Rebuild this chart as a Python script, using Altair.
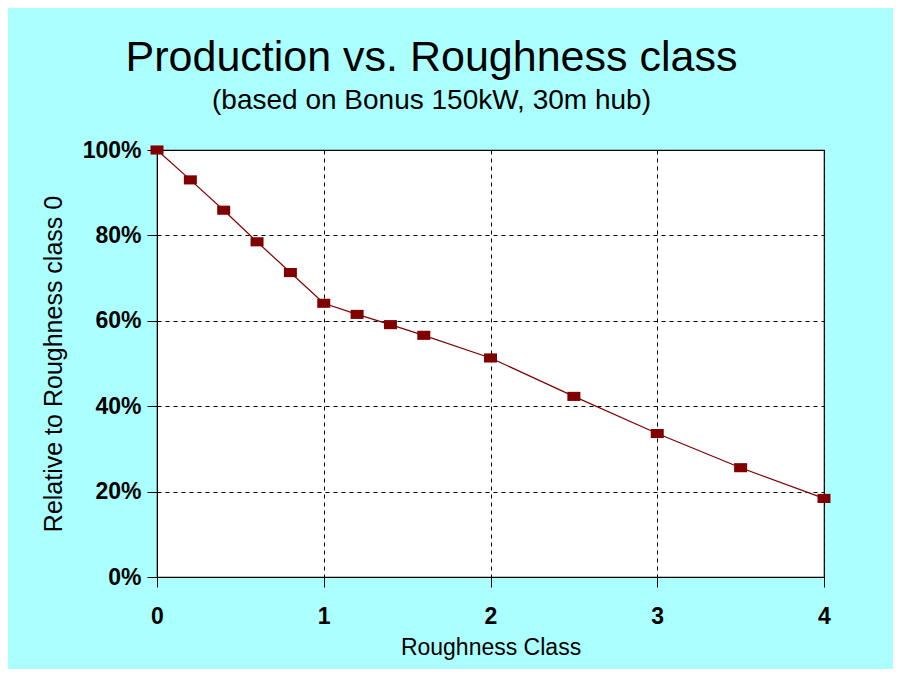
import altair as alt
import pandas as pd

roughness = [0, 0.2, 0.4, 0.6, 0.8, 1.0, 1.2, 1.4, 1.6, 2.0, 2.5, 3.0, 3.5, 4.0]
relative = [1.00, 0.930, 0.859, 0.785, 0.713, 0.641, 0.615, 0.591, 0.566,
            0.513, 0.423, 0.336, 0.256, 0.184]
x_ticks = [0, 1, 2, 3, 4]
y_ticks = [0, 0.2, 0.4, 0.6, 0.8, 1.0]

df = pd.DataFrame({"Roughness": roughness, "Relative": relative})

FONT = "Liberation Sans, Arial, Helvetica, sans-serif"
RED = "#800000"
RECT = "M-1,-0.7L1,-0.7L1,0.7L-1,0.7Z"

x = alt.X("Roughness:Q",
          scale=alt.Scale(domain=[0, 4], nice=False, zero=False),
          axis=alt.Axis(title="Roughness Class", values=x_ticks, format="d",
                        labelFont=FONT, labelFontSize=23, labelFontWeight="bold",
                        labelColor="black", labelPadding=18, tickSize=10,
                        tickColor="black", domainColor="black",
                        titleFont=FONT, titleFontSize=23, titleFontWeight="normal",
                        titleColor="black", titlePadding=8,
                        grid=True, gridColor="black", gridDash=[4, 4],
                        gridWidth=1, labelFlush=False))
y = alt.Y("Relative:Q",
          scale=alt.Scale(domain=[0, 1], nice=False),
          axis=alt.Axis(title="Relative to Roughness class 0", values=y_ticks,
                        format=".0%",
                        labelFont=FONT, labelFontSize=23, labelFontWeight="bold",
                        labelColor="black", labelPadding=6, tickSize=10,
                        tickColor="black", domainColor="black",
                        titleFont=FONT, titleFontSize=25, titleFontWeight="normal",
                        titleColor="black", titlePadding=16,
                        grid=True, gridColor="black", gridDash=[4, 4],
                        gridWidth=1, labelFlush=False))

line = alt.Chart(df).mark_line(color=RED, strokeWidth=1.2).encode(x=x, y=y)
pts = alt.Chart(df).mark_point(shape=RECT, size=169, filled=True, color=RED,
                               opacity=1).encode(x=x, y=y)

chart = (line + pts).properties(
    width=667, height=427,
    autosize=alt.AutoSizeParams(type="none"),
    padding={"left": 149, "top": 142, "right": 69, "bottom": 92},
    background="#ABFFFF",
    title=alt.TitleParams(
        text="Production vs. Roughness class",
        subtitle="(based on Bonus 150kW, 30m hub)",
        anchor="middle", dx=-59, offset=24,
        font=FONT, fontSize=43, fontWeight="normal", color="black",
        subtitleFont=FONT, subtitleFontSize=28, subtitleColor="black",
        subtitlePadding=7,
    ),
).configure_view(fill="white", stroke="black", strokeWidth=1.2)

chart.save("out.html", embed_options={"renderer": "svg", "actions": False})
